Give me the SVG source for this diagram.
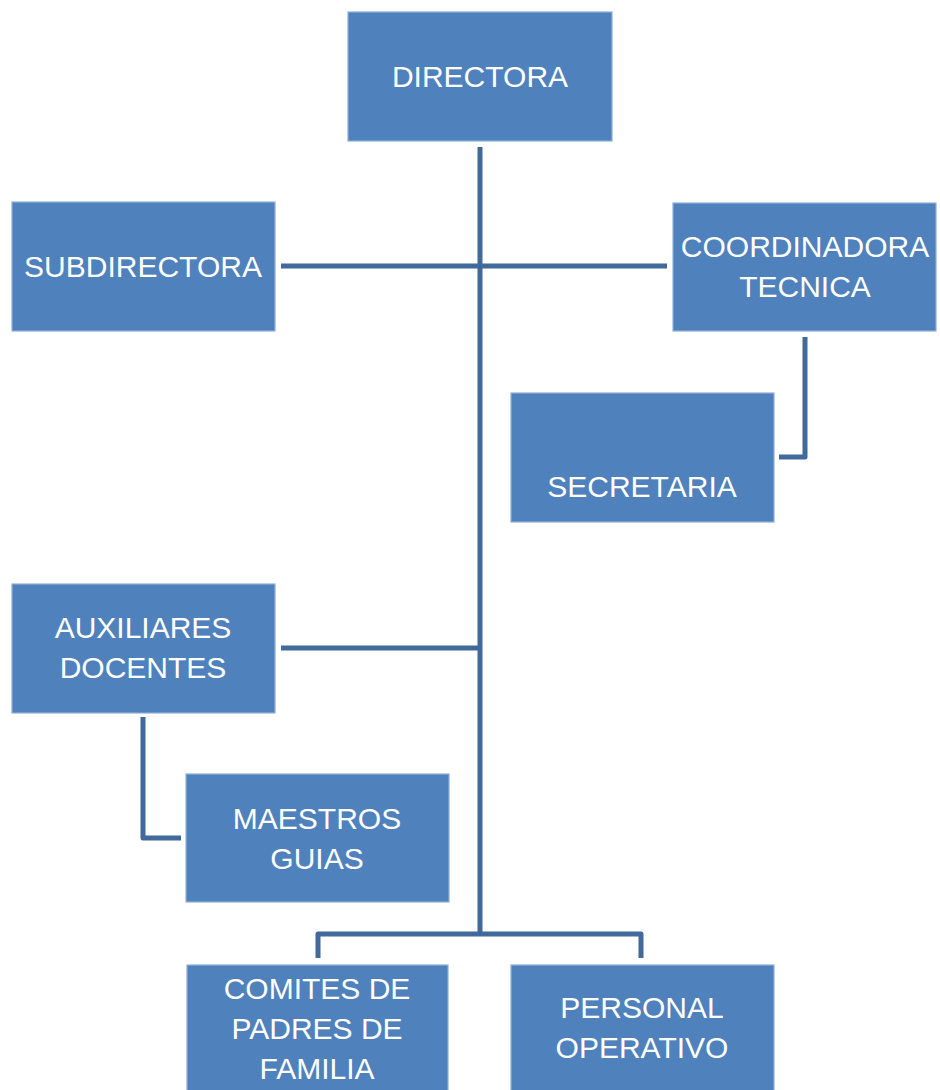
<svg xmlns="http://www.w3.org/2000/svg" width="940" height="1090" viewBox="0 0 940 1090">
<style>
.box{fill:#4F81BD;stroke:#8FB0D8;stroke-width:1.2}
.t{font-family:"Liberation Sans",Arial,sans-serif;font-size:30px;fill:#FFFFFF;text-anchor:middle}
.c{fill:none;stroke:#41699B;stroke-width:5;stroke-linejoin:round}
</style>
<rect width="940" height="1090" fill="#FFFFFF"/>
<g id="connectors">
<path class="c" d="M480 147 V934"/>
<path class="c" d="M281 266 H667"/>
<path class="c" d="M281 648 H480"/>
<path class="c" d="M805 337 V457 H779"/>
<path class="c" d="M143 717 V838 H181"/>
<path class="c" d="M318 958 V934 H641 V958"/>
</g>
<g id="directora"><rect class="box" x="348" y="12" width="264" height="129"/><text class="t" x="480" y="87">DIRECTORA</text></g>
<g id="subdirectora"><rect class="box" x="12" y="202" width="263" height="129"/><text class="t" x="143" y="277">SUBDIRECTORA</text></g>
<g id="coordinadora"><rect class="box" x="673" y="203" width="263" height="128"/><text class="t" x="805" y="257">COORDINADORA</text><text class="t" x="805" y="297">TECNICA</text></g>
<g id="secretaria"><rect class="box" x="511" y="393" width="263" height="129"/><text class="t" x="642" y="497">SECRETARIA</text></g>
<g id="auxiliares"><rect class="box" x="12" y="584" width="263" height="129"/><text class="t" x="143" y="638">AUXILIARES</text><text class="t" x="143" y="678">DOCENTES</text></g>
<g id="maestros"><rect class="box" x="186" y="774" width="263" height="128"/><text class="t" x="317" y="829">MAESTROS</text><text class="t" x="317" y="869">GUIAS</text></g>
<g id="comites"><rect class="box" x="187" y="965" width="261" height="130"/><text class="t" x="317" y="999">COMITES DE</text><text class="t" x="317" y="1039">PADRES DE</text><text class="t" x="317" y="1079">FAMILIA</text></g>
<g id="personal"><rect class="box" x="511" y="965" width="263" height="130"/><text class="t" x="642" y="1018">PERSONAL</text><text class="t" x="642" y="1058">OPERATIVO</text></g>
</svg>
